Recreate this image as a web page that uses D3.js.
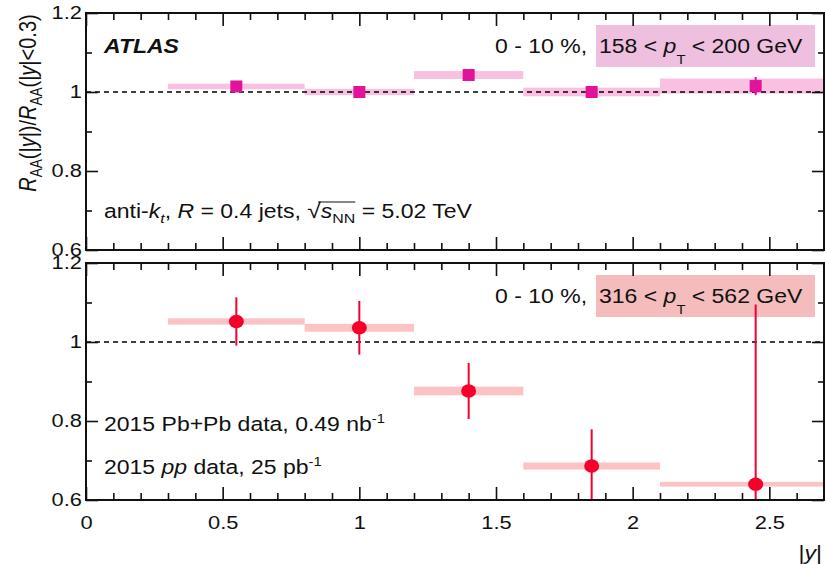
<!DOCTYPE html>
<html><head><meta charset="utf-8">
<script src="https://cdn.jsdelivr.net/npm/d3@7"></script>
<style>body{margin:0;background:#fff}svg{display:block}text{font-family:"Liberation Sans",Arial,Helvetica,sans-serif;fill:#111}</style>
</head><body><svg id="c" width="825" height="564"></svg>
<script>
// ---- data ----
const binLo = [0.3, 0.8, 1.2, 1.6, 2.1];
const binHi = [0.8, 1.2, 1.6, 2.1, 2.7];
const yCenter = [0.55, 1.0, 1.4, 1.85, 2.45];
const topValues = [1.014, 1.000, 1.043, 1.000, 1.015];
const topStat = [0.005, 0.004, 0.005, 0.005, 0.023];
const topSyst = [0.007, 0.008, 0.010, 0.011, 0.019];
const botValues = [1.052, 1.036, 0.876, 0.686, 0.640];
const botStat = [0.061, 0.068, 0.071, 0.093, 0.455];
const botSyst = [0.008, 0.010, 0.011, 0.009, 0.006];
const xMajor = [0, 0.5, 1, 1.5, 2, 2.5];
const yMajor = [0.6, 0.8, 1.0, 1.2];

const SX = 1.18; // horizontal stretch of glyphs in the reference
const FONT = 19.5;
const TICKFONT = 18.5;
const svg = d3.select("#c");
const x = d3.scaleLinear().domain([0, 2.7]).range([86, 824]);
const panels = [
  {y: d3.scaleLinear().domain([0.6, 1.2]).range([250, 13]), vals: topValues, stat: topStat, syst: topSyst,
   marker: "square", col: "#e0139a", boxCol: "#f8b9de", labCol: "#eebfdf", lab: ["158", "200"], xlabels: false},
  {y: d3.scaleLinear().domain([0.6, 1.2]).range([500, 263]), vals: botValues, stat: botStat, syst: botSyst,
   marker: "circle", col: "#f5002b", boxCol: "#fbbcbc", labCol: "#f4bcbc", lab: ["316", "562"], xlabels: true}
];

function rich(x0, y0, parts, size, anchor) {
  const t = svg.append("text").attr("transform", `translate(${x0},${y0}) scale(${SX},1)`)
    .attr("font-size", size).attr("text-anchor", anchor || "start");
  let shift = 0;
  parts.forEach(p => {
    const s = t.append("tspan").text(p.t);
    const target = p.sub ? p.sub : (p.sup ? -p.sup : 0);
    s.attr("dy", target - shift); shift = target;
    if (p.i) s.attr("font-style", "italic");
    if (p.b) s.attr("font-weight", "bold");
    if (p.size) s.attr("font-size", p.size);
  });
  return t;
}

const minor = d3.range(0, 2.71, 0.1).map(v => +v.toFixed(2)).filter(v => !xMajor.some(m => Math.abs(m - v) < 1e-6));
const yMinor = [0.7, 0.9, 1.1];

panels.forEach((P, pi) => {
  const y = P.y;
  const [y0, y1] = y.range();
  // pT label background (drawn under the data)
  svg.append("rect").attr("x", 596).attr("y", y1 + 12).attr("width", 219).attr("height", 42).attr("fill", P.labCol);
  const clipId = "clip" + pi;
  svg.append("clipPath").attr("id", clipId).append("rect")
    .attr("x", x(0)).attr("y", y1).attr("width", x(2.7) - x(0)).attr("height", y0 - y1);
  const g = svg.append("g").attr("clip-path", `url(#${clipId})`);
  // systematic boxes
  g.selectAll(".sys").data(P.vals).join("rect")
    .attr("x", (d, i) => x(binLo[i])).attr("width", (d, i) => x(binHi[i]) - x(binLo[i]))
    .attr("y", (d, i) => y(d + P.syst[i])).attr("height", (d, i) => y(d - P.syst[i]) - y(d + P.syst[i]))
    .attr("fill", P.boxCol).attr("fill-opacity", 0.9);
  // dashed line at 1
  g.append("line").attr("x1", x(0)).attr("x2", x(2.7)).attr("y1", y(1)).attr("y2", y(1))
    .attr("stroke", "#000").attr("stroke-width", 1.5).attr("stroke-dasharray", "5,4");
  // stat error bars
  g.selectAll(".err").data(P.vals).join("line")
    .attr("x1", (d, i) => x(yCenter[i])).attr("x2", (d, i) => x(yCenter[i]))
    .attr("y1", (d, i) => y(d + P.stat[i])).attr("y2", (d, i) => y(d - P.stat[i]))
    .attr("stroke", P.col).attr("stroke-width", 2);
  // markers
  if (P.marker === "square") {
    g.selectAll(".mk").data(P.vals).join("rect")
      .attr("x", (d, i) => x(yCenter[i]) - 6).attr("y", d => y(d) - 6)
      .attr("width", 12).attr("height", 12).attr("fill", P.col);
  } else {
    g.selectAll(".mk").data(P.vals).join("ellipse")
      .attr("cx", (d, i) => x(yCenter[i])).attr("cy", d => y(d))
      .attr("rx", 7.5).attr("ry", 6.8).attr("fill", P.col);
  }
  // axes
  const ax = svg.append("g");
  const fmtY = v => (Math.abs(v - 1) < 1e-9 ? "1" : v.toFixed(1));
  const fmtX = v => (v === 0 ? "0" : (Number.isInteger(v) ? String(v) : v.toFixed(1)));
  ax.append("g").attr("transform", `translate(0,${y0})`)
    .call(d3.axisBottom(x).tickValues(xMajor).tickSizeInner(-13).tickSizeOuter(0).tickPadding(16)
      .tickFormat(P.xlabels ? fmtX : () => ""));
  ax.append("g").attr("transform", `translate(0,${y0})`)
    .call(d3.axisBottom(x).tickValues(minor).tickSizeInner(-7).tickSizeOuter(0).tickFormat(() => ""));
  ax.append("g").attr("transform", `translate(0,${y1})`)
    .call(d3.axisTop(x).tickValues(xMajor).tickSizeInner(-13).tickSizeOuter(0).tickFormat(() => ""));
  ax.append("g").attr("transform", `translate(0,${y1})`)
    .call(d3.axisTop(x).tickValues(minor).tickSizeInner(-7).tickSizeOuter(0).tickFormat(() => ""));
  ax.append("g").attr("transform", `translate(${x(0)},0)`)
    .call(d3.axisLeft(y).tickValues(yMajor).tickSizeInner(-12).tickSizeOuter(0).tickPadding(3.5).tickFormat(fmtY));
  ax.append("g").attr("transform", `translate(${x(0)},0)`)
    .call(d3.axisLeft(y).tickValues(yMinor).tickSizeInner(-6).tickSizeOuter(0).tickFormat(() => ""));
  ax.append("g").attr("transform", `translate(${x(2.7)},0)`)
    .call(d3.axisRight(y).tickValues(yMajor).tickSizeInner(-12).tickSizeOuter(0).tickFormat(() => ""));
  ax.append("g").attr("transform", `translate(${x(2.7)},0)`)
    .call(d3.axisRight(y).tickValues(yMinor).tickSizeInner(-6).tickSizeOuter(0).tickFormat(() => ""));
  ax.selectAll(".domain").remove();
  ax.selectAll(".tick line").attr("stroke", "#111").attr("stroke-width", 1.6);
  ax.selectAll(".tick text").attr("font-size", TICKFONT).attr("fill", "#111")
    .attr("font-family", '"Liberation Sans",Arial,Helvetica,sans-serif')
    .attr("transform", `scale(${SX},1)`);
  // frame
  svg.append("rect").attr("x", x(0)).attr("y", y1).attr("width", x(2.7) - x(0)).attr("height", y0 - y1)
    .attr("fill", "none").attr("stroke", "#111").attr("stroke-width", 2);
  // pT label text
  const ly = y1 + 40;
  rich(495, ly, [{t: "0 - 10 %,"}], FONT);
  rich(599, ly, [{t: P.lab[0] + " < "}, {t: "p", i: true}, {t: "T", sub: 11, size: 12.5},
    {t: " < " + P.lab[1] + " GeV"}], FONT);
});

// top panel texts
rich(104, 53, [{t: "ATLAS", b: true, i: true}], FONT);
const ak = rich(104, 218, [{t: "anti-"}, {t: "k", i: true}, {t: "t", i: true, sub: 5, size: 13.5},
  {t: ", "}, {t: "R", i: true}, {t: " = 0.4 jets, "}, {t: "\u221A", size: 21},
  {t: "s", i: true}, {t: "NN", sub: 5, size: 13.5}, {t: " = 5.02 TeV"}], FONT);
// overbar of the square root
(function () {
  const spans = ak.selectAll("tspan").nodes();
  const r = spans[6], nn = spans[8];
  const start = r.getStartPositionOfChar(0).x + r.getComputedTextLength() * 0.8;
  const end = nn.getEndPositionOfChar(nn.getNumberOfChars() - 1).x;
  svg.append("line").attr("transform", `translate(104,218) scale(${SX},1)`)
    .attr("x1", start).attr("x2", end).attr("y1", -16).attr("y2", -16)
    .attr("stroke", "#111").attr("stroke-width", 0.9);
})();

// bottom panel texts
rich(104, 431, [{t: "2015 Pb+Pb data, 0.49 nb"}, {t: "-1", sup: 8, size: 12.5}], FONT);
rich(104, 474, [{t: "2015 "}, {t: "pp", i: true}, {t: " data, 25 pb"}, {t: "-1", sup: 8, size: 12.5}], FONT);

// axis titles
rich(822, 560, [{t: "|"}, {t: "y", i: true}, {t: "|"}], FONT, "end");
svg.append("text").attr("transform", `translate(36,103) scale(${SX},1) rotate(-90)`)
  .attr("font-size", 20).attr("text-anchor", "middle")
  .call(t => {
    const parts = [{t: "R", i: true}, {t: "AA", sub: 5, size: 13.5}, {t: "(|"}, {t: "y", i: true}, {t: "|)/"},
      {t: "R", i: true}, {t: "AA", sub: 5, size: 13.5}, {t: "(|"}, {t: "y", i: true}, {t: "|<0.3)"}];
    let shift = 0;
    parts.forEach(p => {
      const s = t.append("tspan").text(p.t);
      const tg = p.sub || 0; s.attr("dy", tg - shift); shift = tg;
      if (p.i) s.attr("font-style", "italic");
      if (p.size) s.attr("font-size", p.size);
    });
  });
</script></body></html>
